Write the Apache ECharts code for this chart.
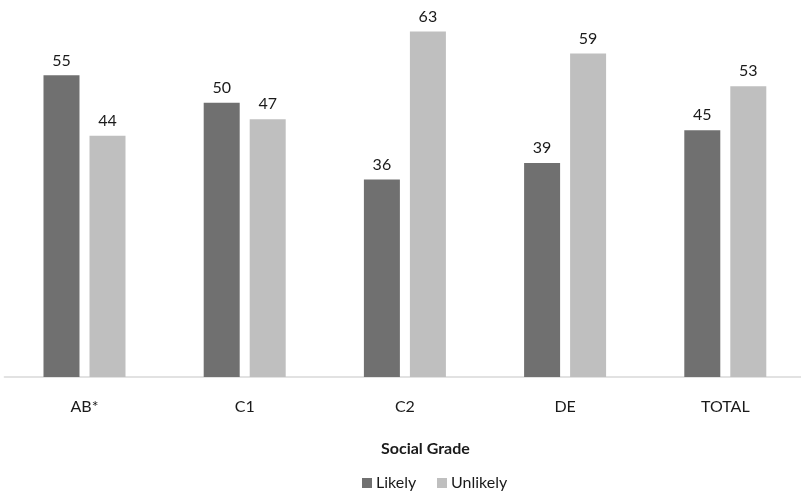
<!DOCTYPE html>
<html><head><meta charset="utf-8">
<script src="https://cdn.jsdelivr.net/npm/echarts@6/dist/echarts.min.js"></script>
<style>html,body{margin:0;padding:0;background:#fff;overflow:hidden;width:801px;height:496px}#c{width:812px;height:496px}</style>
</head><body><div id="c"></div>
<script>
const categories = ['AB*', 'C1', 'C2', 'DE', 'TOTAL'];
const likely = [55, 50, 36, 39, 45];
const unlikely = [44, 47, 63, 59, 53];
const seriesNames = ['Likely', 'Unlikely'];
const axisTitle = 'Social Grade';

const font = 'Lato, "Noto Sans", sans-serif';
const txt = '#1a1a1a';
const chart = echarts.init(document.getElementById('c'));
chart.setOption({
  animation: false,
  textStyle: { fontFamily: font },
  title: { text: axisTitle, left: 381, top: 441, padding: 0,
    textStyle: { fontWeight: 'bold', fontSize: 16, color: txt, fontFamily: font } },
  grid: { left: 4.4, width: 801, top: 20.5, bottom: 119, containLabel: false },
  xAxis: {
    type: 'category', data: categories,
    axisLine: { lineStyle: { color: '#d9d9d9', width: 1.5 } },
    axisTick: { show: false },
    axisLabel: { color: txt, fontSize: 16, margin: 22, fontFamily: font }
  },
  yAxis: { type: 'value', min: 0, max: 65, show: false, splitLine: { show: false } },
  legend: [
    { data: [seriesNames[0]], left: 362, top: 475, padding: 0, itemWidth: 10, itemHeight: 10,
      icon: 'rect', textStyle: { fontSize: 16, color: txt, fontFamily: font, padding: [0,0,0,-1] } },
    { data: [seriesNames[1]], left: 437, top: 475, padding: 0, itemWidth: 10, itemHeight: 10,
      icon: 'rect', textStyle: { fontSize: 16, color: txt, fontFamily: font, padding: [0,0,0,-1] } }
  ],
  series: [
    { name: seriesNames[0], type: 'bar', data: likely, barWidth: 36, barGap: '27.8%',
      itemStyle: { color: '#707070' },
      label: { show: true, position: 'top', distance: 7, fontSize: 16, color: txt, fontFamily: font } },
    { name: seriesNames[1], type: 'bar', data: unlikely, barWidth: 36,
      itemStyle: { color: '#bfbfbf' },
      label: { show: true, position: 'top', distance: 7, fontSize: 16, color: txt, fontFamily: font } }
  ]
});
</script></body></html>
